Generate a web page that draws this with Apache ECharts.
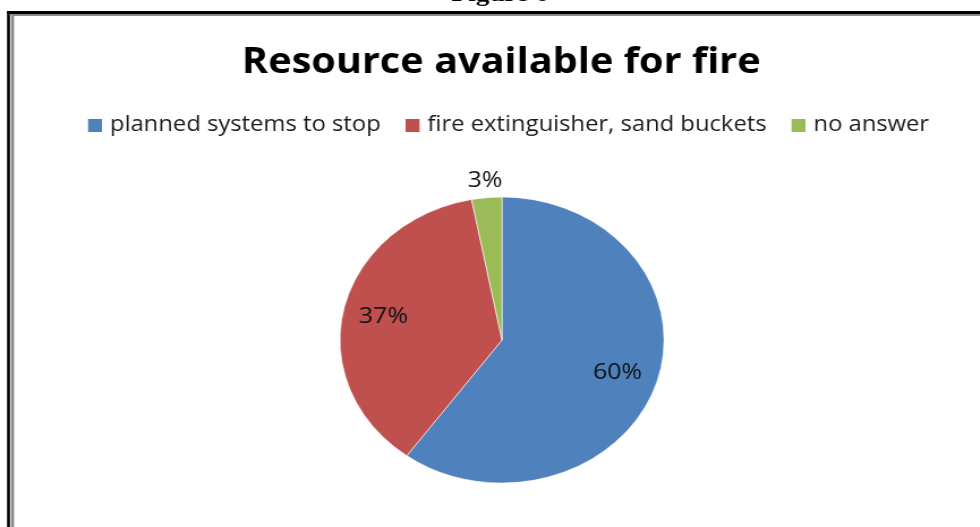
<!DOCTYPE html>
<html>
<head>
<meta charset="utf-8">
<script src="https://cdn.jsdelivr.net/npm/echarts@6/dist/echarts.min.js"></script>
<style>
  html, body { margin: 0; padding: 0; background: #fff; overflow: hidden; }
  #chart { width: 865px; height: 527px; transform-origin: 0 0; }
</style>
</head>
<body>
<div id="chart"></div>
<script>
// Survey answers: resources available in case of fire
const categories = ['planned systems to stop', 'fire extinguisher, sand buckets', 'no answer'];
const shares = [60, 37, 3];
const sliceColors = ['#4F81BD', '#C0504D', '#9BBB59'];

// The whole figure is laid out narrow and widened horizontally,
// which turns the pie into the wide oval of the printed figure.
const stretchX = 162 / 143;
const el = document.getElementById('chart');
el.style.transform = 'scaleX(' + stretchX + ')';
const sx = px => px / stretchX; // page x -> chart x

const chart = echarts.init(el);

const pieCenter = [sx(502), 340];
const pieRadius = 143;
const total = shares.reduce((a, b) => a + b, 0);

// Place each percentage label along its slice's middle direction:
// big slices inside the pie, thin slices just outside the rim.
function placeLabel(params) {
  const i = params.dataIndex;
  let before = 0;
  for (let j = 0; j < i; j++) before += shares[j];
  const midDeg = -90 + ((before + shares[i] / 2) / total) * 360;
  const a = (midDeg * Math.PI) / 180;
  const f = shares[i] / total >= 0.1 ? 0.75 : 1.12;
  return {
    x: pieCenter[0] + Math.cos(a) * pieRadius * f,
    y: pieCenter[1] + Math.sin(a) * pieRadius * f,
    align: 'center',
    verticalAlign: 'middle'
  };
}

const option = {
  animation: false,
  color: sliceColors,
  title: {
    text: 'Resource available for fire',
    left: sx(242),
    top: 46,
    padding: 0,
    textStyle: { fontFamily: 'Open Sans', fontWeight: 'bold', fontSize: 35, color: '#000' }
  },
  legend: {
    top: 115,
    left: sx(88),
    padding: 0,
    itemWidth: sx(14),
    itemHeight: 13,
    itemGap: 22,
    icon: 'rect',
    selectedMode: false,
    itemStyle: { borderWidth: 0 },
    data: categories,
    textStyle: { fontFamily: 'Open Sans', fontSize: 21, color: '#1a1a1a', padding: [0, 0, 0, 2] }
  },
  graphic: [
    {
      type: 'text',
      x: sx(500),
      y: -17,
      style: { text: 'Figure 6', font: 'bold 24px "Liberation Serif", serif', fill: '#000', align: 'center', verticalAlign: 'top' }
    },
    // frame: double rule along top and left
    { type: 'rect', shape: { x: sx(7), y: 11, width: 865, height: 3 }, style: { fill: '#000' } },
    { type: 'rect', shape: { x: sx(11), y: 14, width: 865, height: 2 }, style: { fill: '#8a8a8a' } },
    { type: 'rect', shape: { x: sx(7), y: 11, width: sx(3), height: 516 }, style: { fill: '#000' } },
    { type: 'rect', shape: { x: sx(11), y: 14, width: sx(3), height: 513 }, style: { fill: '#8a8a8a' } }
  ],
  series: [
    {
      type: 'pie',
      center: pieCenter,
      radius: [0, pieRadius],
      startAngle: 90,
      clockwise: true,
      silent: true,
      itemStyle: { borderColor: 'rgba(255,255,255,0.7)', borderWidth: 0.8 },
      label: {
        show: true,
        position: 'inside',
        formatter: '{c}%',
        fontFamily: 'Open Sans',
        fontSize: 22,
        color: '#111'
      },
      labelLine: { show: false },
      labelLayout: placeLabel,
      data: categories.map((c, i) => ({ name: c, value: shares[i] }))
    }
  ]
};

chart.setOption(option);
</script>
</body>
</html>
